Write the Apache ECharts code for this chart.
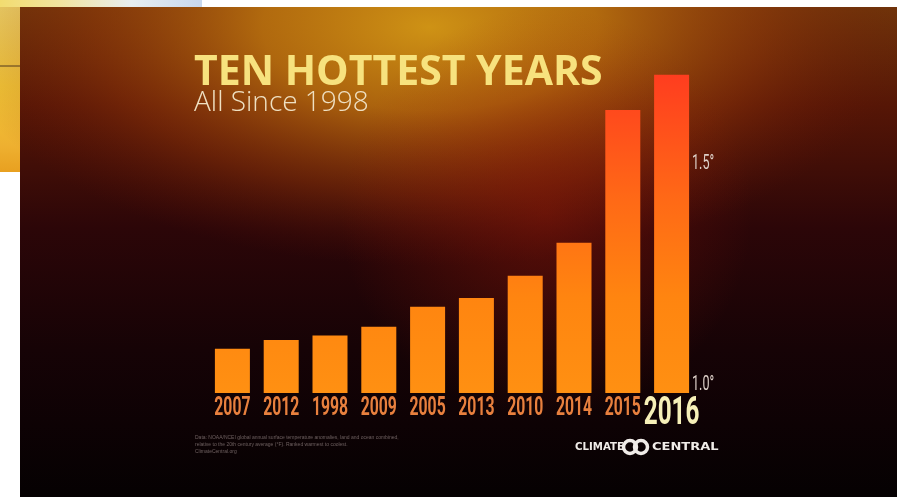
<!DOCTYPE html>
<html>
<head>
<meta charset="utf-8">
<script src="https://cdn.jsdelivr.net/npm/echarts@6/dist/echarts.min.js"></script>
<style>
html,body{margin:0;padding:0;background:#ffffff;}
#c{width:897px;height:497px;}
</style>
</head>
<body>
<div id="c"></div>
<script>
var categories = ['2007','2012','1998','2009','2005','2013','2010','2014','2015','2016'];
var anomalies = [1.10, 1.12, 1.13, 1.15, 1.195, 1.215, 1.265, 1.34, 1.64, 1.72];
var yTickValues = [1.0, 1.5];
var titleText = 'TEN HOTTEST YEARS';
var subtitleText = 'All Since 1998';

var chart = echarts.init(document.getElementById('c'), null, {renderer:'canvas'});
var FX = 20, FY = 7, FW = 877, FH = 490;
var BASE = 1.0;
var LABEL_FONT = 'Roboto, "DejaVu Sans", sans-serif';

function xLabelItem(params, api) {
  var i = params.dataIndex;
  var p = api.coord([i, BASE]);
  var isLast = i === categories.length - 1;
  return {
    type: 'text',
    x: p[0], y: p[1] + (isLast ? 2 : 3),
    scaleX: isLast ? 0.64 : 0.63,
    style: {
      text: categories[i],
      x: 0, y: 0,
      align: 'center', verticalAlign: 'top',
      fontFamily: LABEL_FONT,
      fontWeight: 'bold',
      fontSize: isLast ? 38 : 25,
      fill: isLast ? '#f6f0b8' : '#e8803e'
    }
  };
}

function yLabelItem(params, api) {
  var v = yTickValues[params.dataIndex];
  var last = categories.length - 1;
  var p = api.coord([last, v]);
  var half = api.size([1, 0])[0] / 2;
  return {
    type: 'text',
    x: p[0] + half - 4, y: p[1] + 2,
    scaleX: 0.6,
    style: {
      text: v.toFixed(1) + '°',
      x: 0, y: 0,
      align: 'left', verticalAlign: 'bottom',
      fontFamily: LABEL_FONT,
      fontSize: 21,
      fill: '#ddd0c8'
    }
  };
}

var option = {
  backgroundColor: '#ffffff',
  animation: false,
  grid: {left: 208, right: 201, top: 61.5, bottom: 104, containLabel: false},
  xAxis: {
    type: 'category',
    data: categories,
    axisLine: {show: false},
    axisTick: {show: false},
    axisLabel: {show: false}
  },
  yAxis: {
    type: 'value',
    position: 'right',
    min: BASE,
    max: 1.75,
    splitLine: {show: false},
    axisLine: {show: false},
    axisTick: {show: false},
    axisLabel: {show: false}
  },
  series: [{
    type: 'bar',
    data: anomalies,
    barWidth: 35,
    itemStyle: {
      color: {
        type: 'linear', global: true, x: 0, y: 75, x2: 0, y2: 393,
        colorStops: [
          {offset: 0, color: '#ff3d1f'},
          {offset: 0.4, color: '#ff6a16'},
          {offset: 0.7, color: '#ff8510'},
          {offset: 1, color: '#ff9012'}
        ]
      }
    }
  }, {
    type: 'custom',
    renderItem: xLabelItem,
    data: categories.map(function (c, i) { return [i, BASE]; }),
    silent: true,
    z: 5
  }, {
    type: 'custom',
    renderItem: yLabelItem,
    data: yTickValues.map(function (v) { return [categories.length - 1, v]; }),
    silent: true,
    z: 5
  }],
  graphic: [
    // inset image behind frame (top-left)
    {type: 'rect', z: -20, silent: true, shape: {x: 0, y: 0, width: 202, height: 172},
      style: {fill: {type: 'linear', x: 0, y: 0, x2: 0, y2: 1, colorStops: [
        {offset: 0, color: '#f2dc70'}, {offset: 0.5, color: '#f3c838'}, {offset: 0.85, color: '#eeb030'}, {offset: 1, color: '#e8a020'}]}}},
    {type: 'line', z: -18, silent: true, shape: {x1: 0, y1: 66, x2: 20, y2: 66}, style: {stroke: '#4a3a20', lineWidth: 1}},
    // frame base
    {type: 'rect', z: -10, silent: true, shape: {x: FX, y: FY, width: FW, height: FH},
      style: {fill: {type: 'linear', x: 0, y: 0, x2: 0, y2: 1, colorStops: [
        {offset: 0, color: '#70340a'}, {offset: 0.2, color: '#561606'}, {offset: 0.45, color: '#2c0608'},
        {offset: 0.7, color: '#160306'}, {offset: 1, color: '#050102'}]}}},
    // wide top glow (ellipse)
    {type: 'rect', z: -9, silent: true, x: 0, y: FY + 20, scaleY: 0.5,
      shape: {x: FX - 40, y: -440, width: FW + 80, height: 957},
      style: {fill: {type: 'radial', x: 0.47, y: 0.46, r: 0.5, colorStops: [
        {offset: 0, color: 'rgba(215,155,22,0.92)'}, {offset: 0.35, color: 'rgba(200,125,16,0.75)'},
        {offset: 0.7, color: 'rgba(160,62,10,0.38)'}, {offset: 1, color: 'rgba(110,20,8,0)'}]}}},
    // reddish glow behind tall bars
    {type: 'rect', z: -8, silent: true, shape: {x: FX, y: FY, width: FW, height: FH},
      style: {fill: {type: 'radial', x: 0.6, y: 0.42, r: 0.42, colorStops: [
        {offset: 0, color: 'rgba(150,25,8,0.45)'}, {offset: 1, color: 'rgba(150,25,8,0)'}]}}},
    // mask above frame (page white + inset top strip)
    {type: 'rect', z: -7, silent: true, shape: {x: 0, y: 0, width: 897, height: FY}, style: {fill: '#ffffff'}},
    {type: 'rect', z: -6, silent: true, shape: {x: 0, y: 0, width: 202, height: FY},
      style: {fill: {type: 'linear', x: 0, y: 0, x2: 1, y2: 0, colorStops: [
        {offset: 0, color: '#f2dc70'}, {offset: 0.3, color: '#f2e4a0'}, {offset: 0.65, color: '#e8eef0'}, {offset: 1, color: '#c8d8ee'}]}}},
    // title
    {type: 'text', z: 10, left: 194, top: 53, silent: true,
      style: {text: titleText, fontFamily: '"Open Sans", sans-serif', fontWeight: 'bold', fontSize: 41, fill: '#f7e27e'}},
    {type: 'text', z: 10, left: 194, top: 89, silent: true,
      style: {text: subtitleText, fontFamily: '"Open Sans", sans-serif', fontWeight: 300, fontSize: 28, fill: '#efe0c2'}},
    // fine print
    {type: 'text', z: 10, left: 195, top: 434, silent: true,
      style: {text: 'Data: NOAA/NCEI global annual surface temperature anomalies, land and ocean combined,\nrelative to the 20th century average (°F). Ranked warmest to coolest.\nClimateCentral.org', fontFamily: 'sans-serif', fontSize: 5, lineHeight: 7, fill: '#6e6060'}},
    // logo
    {type: 'text', z: 10, x: 575, y: 447, scaleX: 1.02, silent: true,
      style: {text: 'CLIMATE', x: 0, y: 0, verticalAlign: 'middle', fontFamily: '"DejaVu Sans", sans-serif', fontWeight: 'bold', fontSize: 10, fill: '#f0ece8'}},
    {type: 'circle', z: 10, silent: true, shape: {cx: 630, cy: 447, r: 6.5}, style: {fill: 'none', stroke: '#f0ece8', lineWidth: 3.5}},
    {type: 'circle', z: 10, silent: true, shape: {cx: 641, cy: 447, r: 6.5}, style: {fill: 'none', stroke: '#f0ece8', lineWidth: 3.5}},
    {type: 'text', z: 10, x: 652, y: 447, scaleX: 1.3, silent: true,
      style: {text: 'CENTRAL', x: 0, y: 0, verticalAlign: 'middle', fontFamily: '"DejaVu Sans", sans-serif', fontWeight: 'bold', fontSize: 10, fill: '#f0ece8'}}
  ]
};
chart.setOption(option);
</script>
</body>
</html>
